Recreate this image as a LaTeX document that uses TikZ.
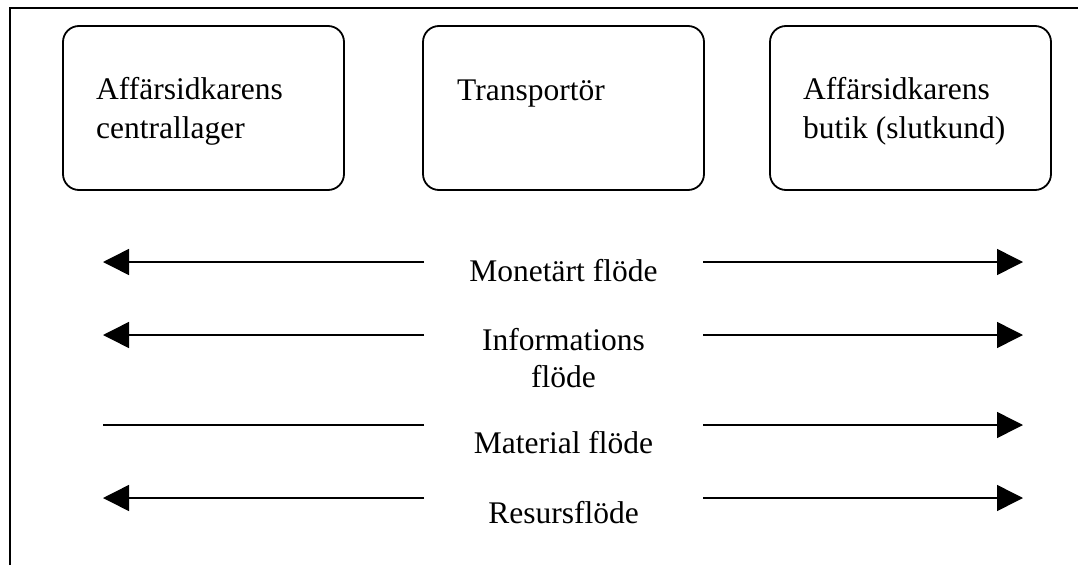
\documentclass[tikz,border=0pt]{standalone}
\usepackage{fontspec}
\setmainfont{Liberation Serif}
\usetikzlibrary{arrows.meta}
\begin{document}
\begin{tikzpicture}[x=1pt,y=-1pt,
  party/.style={draw,line width=1.8pt,rounded corners=16pt,minimum width=281pt,minimum height=164pt,inner sep=0pt},
  txt/.style={inner sep=0pt,font=\fontsize{31.5}{39}\selectfont},
  flow/.style={line width=1.5pt,-{Triangle[length=26pt,width=26pt]}},
  bare/.style={line width=1.5pt}]
\useasboundingbox (0,0) rectangle (1078,565);
% open frame: top and left edges
\draw[line width=2.2pt] (10,565) -- (10,8) -- (1078,8);
% the three parties
\node[party] (lager) at (203.5,108) {};
\node[party] (trans) at (563.5,108) {};
\node[party] (butik) at (910.5,108) {};
\node[txt,anchor=base west] (lager1) at (96,99) {Affärsidkarens};
\node[txt,anchor=base west] (lager2) at (96,138) {centrallager};
\node[txt,anchor=base west] (trans1) at (457,100) {Transportör};
\node[txt,anchor=base west] (butik1) at (803,99) {Affärsidkarens};
\node[txt,anchor=base west] (butik2) at (803,138) {butik (slutkund)};
% flow labels
\node[txt,anchor=base] (mon) at (563.5,281) {Monetärt flöde};
\node[txt,anchor=base] (inf1) at (563.5,350) {Informations};
\node[txt,anchor=base] (inf2) at (563.5,387) {flöde};
\node[txt,anchor=base] (mat) at (563.5,453) {Material flöde};
\node[txt,anchor=base] (res) at (563.5,523) {Resursflöde};
% arrow end points
\foreach \n/\y in {mon/262, inf/335, mat/425, res/498}{
  \coordinate (\n-ls) at (424,\y);
  \coordinate (\n-le) at (103,\y);
  \coordinate (\n-rs) at (703,\y);
  \coordinate (\n-re) at (1023,\y);
}
% flows
\draw[flow] (mon-ls) -- (mon-le);
\draw[flow] (mon-rs) -- (mon-re);
\draw[flow] (inf-ls) -- (inf-le);
\draw[flow] (inf-rs) -- (inf-re);
\draw[bare] (mat-ls) -- (mat-le);
\draw[flow] (mat-rs) -- (mat-re);
\draw[flow] (res-ls) -- (res-le);
\draw[flow] (res-rs) -- (res-re);
\end{tikzpicture}
\end{document}
